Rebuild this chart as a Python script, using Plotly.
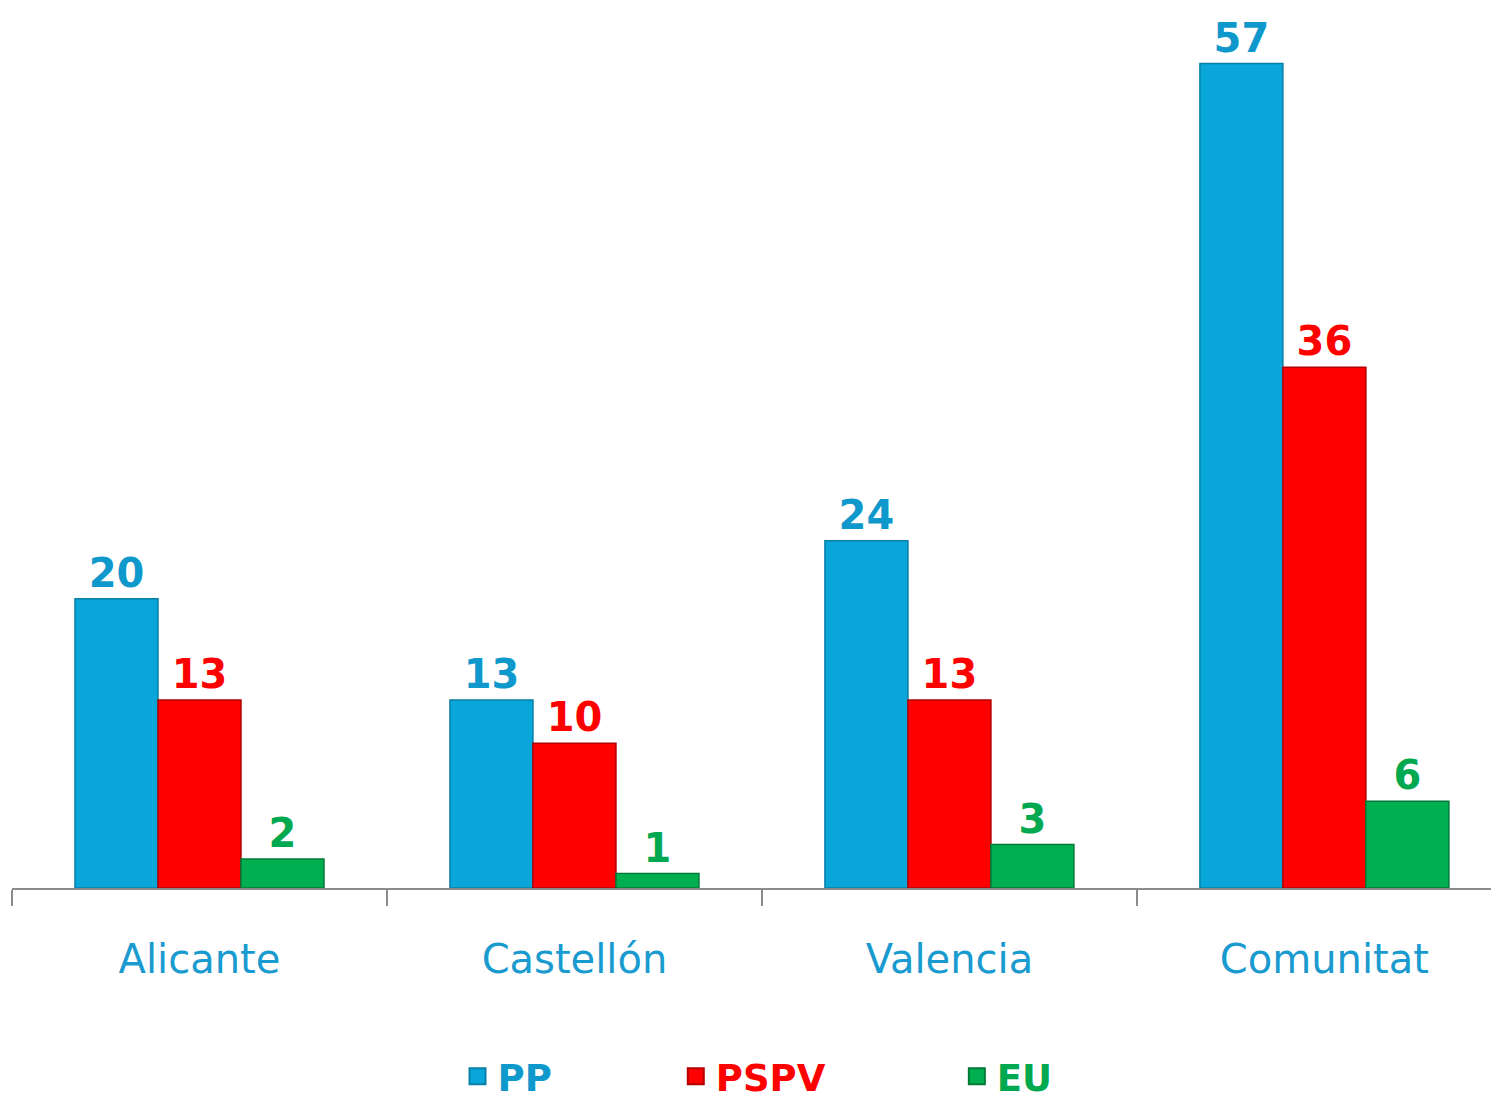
import plotly.graph_objects as go

# Seats by province (Corts Valencianes)
REGIONS = ["Alicante", "Castellón", "Valencia", "Comunitat"]
PARTIES = ["PP", "PSPV", "EU"]
PP_SEATS = [20, 13, 24, 57]
PSPV_SEATS = [13, 10, 13, 36]
EU_SEATS = [2, 1, 3, 6]

BAR_COLORS = {"PP": "#08a6d9", "PSPV": "#ff0000", "EU": "#00b050"}
EDGE_COLORS = {"PP": "#0a7fa8", "PSPV": "#b30000", "EU": "#007a38"}
TEXT_COLORS = {"PP": "#0f98cc", "PSPV": "#ff0000", "EU": "#00a850"}
LABEL_BLUE = "#1a9bd0"
FONT = "DejaVu Sans"

# legend slot for each party (one legend box per party, left edge in paper x)
LEGEND_SLOTS = {"PP": ("legend", 0.298), "PSPV": ("legend2", 0.444), "EU": ("legend3", 0.632)}

series = dict(zip(PARTIES, [PP_SEATS, PSPV_SEATS, EU_SEATS]))

fig = go.Figure()
for party in PARTIES:
    fig.add_trace(
        go.Bar(
            x=REGIONS,
            y=series[party],
            name=party,
            showlegend=False,
            marker=dict(
                color=BAR_COLORS[party],
                line=dict(color=EDGE_COLORS[party], width=1.5),
            ),
            text=series[party],
            textposition="outside",
            texttemplate="<b>%{text}</b>",
            textfont=dict(family=FONT, size=40, color=TEXT_COLORS[party]),
            cliponaxis=False,
        )
    )
    # legend-only marker so the key square can be larger than the bar swatch
    fig.add_trace(
        go.Scatter(
            x=[None],
            y=[None],
            mode="markers",
            name=f"<b><span style='color:{TEXT_COLORS[party]}'>{party}</span></b>",
            legend=LEGEND_SLOTS[party][0],
            marker=dict(
                symbol="square",
                size=24,
                color=BAR_COLORS[party],
                line=dict(color=EDGE_COLORS[party], width=2),
            ),
        )
    )

legend_style = dict(
    orientation="h",
    xanchor="left",
    y=-0.215,
    yanchor="middle",
    font=dict(family=FONT, size=37),
    itemsizing="trace",
    bgcolor="rgba(0,0,0,0)",
)

# the page body adds an 8px offset, margins below allow for it
fig.update_layout(
    width=1499,
    height=1099,
    barmode="group",
    bargap=0.336,
    bargroupgap=0,
    plot_bgcolor="white",
    paper_bgcolor="white",
    font=dict(family=FONT),
    margin={"l": 4, "r": 0, "t": 2, "b": 219, "autoexpand": False},
    xaxis=dict(
        range=[-0.5, 3.487],
        showline=True,
        linecolor="#8c8c8c",
        linewidth=2,
        ticks="outside",
        tickson="boundaries",
        ticklen=16,
        tickwidth=2,
        tickcolor="#8c8c8c",
        tickfont=dict(family=FONT, size=40, color=LABEL_BLUE),
        ticklabelstandoff=35,
        automargin=False,
    ),
    yaxis=dict(
        range=[0, 60.7],
        visible=False,
        showgrid=False,
        zeroline=False,
        automargin=False,
    ),
    legend=dict(legend_style, x=LEGEND_SLOTS["PP"][1]),
    legend2=dict(legend_style, x=LEGEND_SLOTS["PSPV"][1]),
    legend3=dict(legend_style, x=LEGEND_SLOTS["EU"][1]),
)

fig.write_html("out.html")
